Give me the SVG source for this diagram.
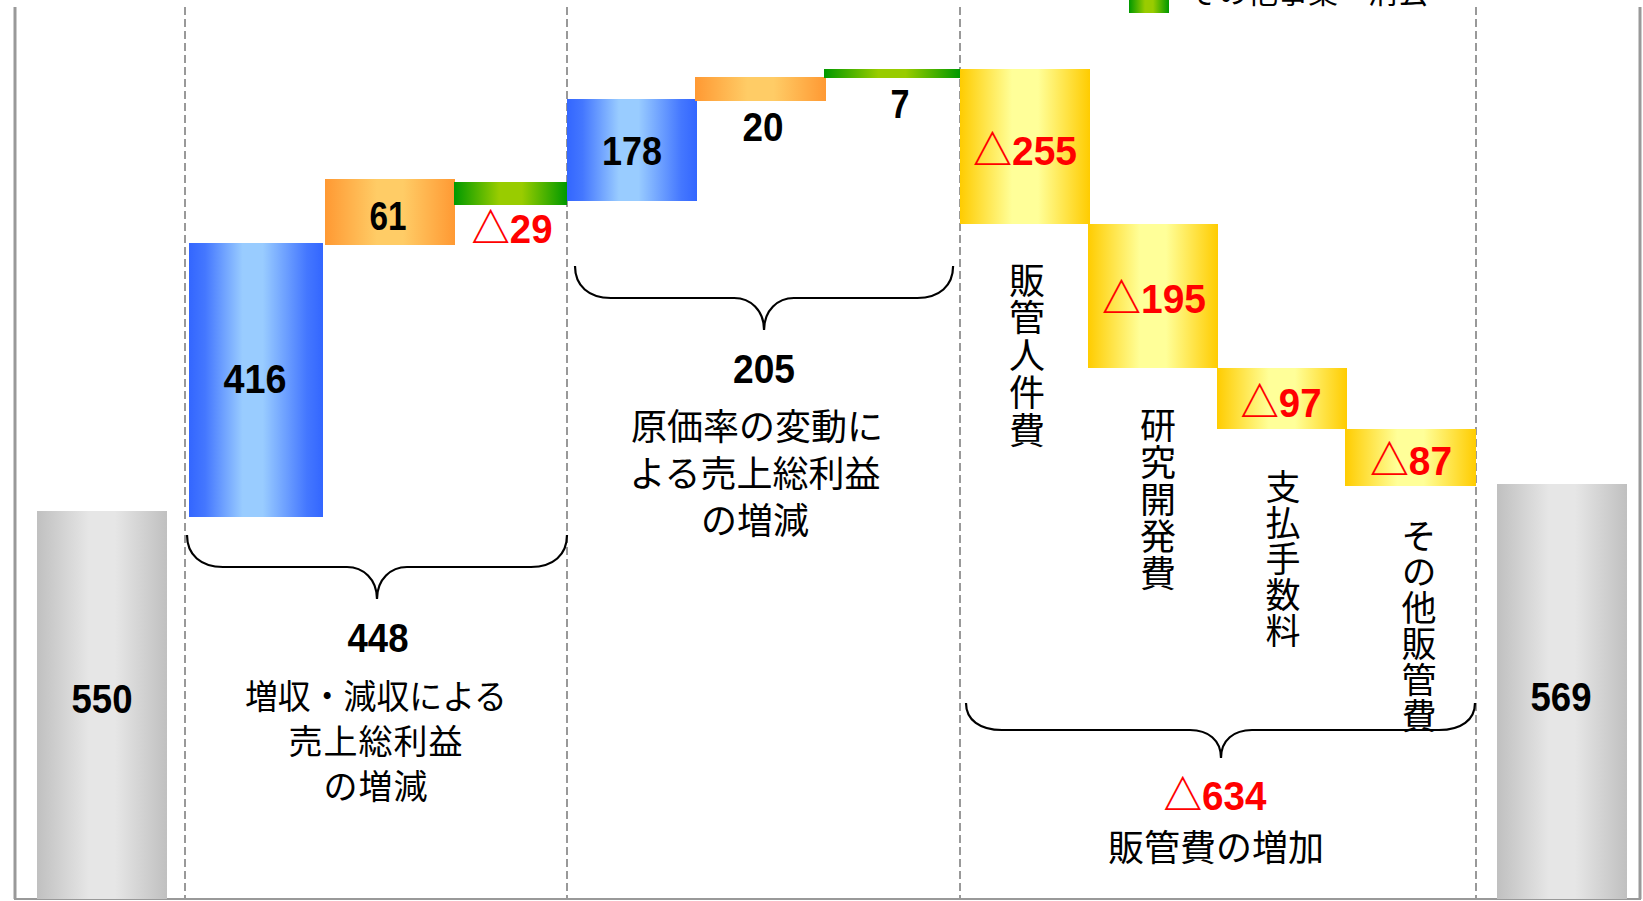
<svg xmlns="http://www.w3.org/2000/svg" width="1643" height="901" viewBox="0 0 1643 901">
<defs>
<linearGradient id="gBlue" x1="0" y1="0" x2="1" y2="0">
<stop offset="0" stop-color="#3366FF"/><stop offset="0.12" stop-color="#4477FF"/><stop offset="0.4" stop-color="#99CCFF"/><stop offset="0.55" stop-color="#99CCFF"/><stop offset="0.88" stop-color="#4477FF"/><stop offset="1" stop-color="#3366FF"/>
</linearGradient>
<linearGradient id="gOrange" x1="0" y1="0" x2="1" y2="0">
<stop offset="0" stop-color="#FF9933"/><stop offset="0.4" stop-color="#FFCC66"/><stop offset="0.6" stop-color="#FFCC66"/><stop offset="1" stop-color="#FF9933"/>
</linearGradient>
<linearGradient id="gGreen" x1="0" y1="0" x2="1" y2="0">
<stop offset="0" stop-color="#009900"/><stop offset="0.4" stop-color="#99CC00"/><stop offset="0.6" stop-color="#99CC00"/><stop offset="1" stop-color="#009900"/>
</linearGradient>
<linearGradient id="gYellow" x1="0" y1="0" x2="1" y2="0">
<stop offset="0" stop-color="#FFCC00"/><stop offset="0.4" stop-color="#FFFF99"/><stop offset="0.6" stop-color="#FFFF99"/><stop offset="1" stop-color="#FFCC00"/>
</linearGradient>
<linearGradient id="gGrey" x1="0" y1="0" x2="1" y2="0">
<stop offset="0" stop-color="#C0C0C0"/><stop offset="0.4" stop-color="#E6E6E6"/><stop offset="0.6" stop-color="#E6E6E6"/><stop offset="1" stop-color="#C0C0C0"/>
</linearGradient>
<path id="brace" d="M0,0 C0,20 14,32 36,32 L160,32 C176,32 190,44 190,64 C190,44 204,32 220,32 L344,32 C366,32 380,20 380,0"/>
</defs>
<style>
.frame{stroke:#999999;stroke-width:3;fill:none}
.dash{stroke:#999999;stroke-width:2;stroke-dasharray:8 4;fill:none}
.brace{stroke:#000;stroke-width:2.2;fill:none}
.num{font-family:"Liberation Sans","Noto Sans CJK JP",sans-serif;font-weight:bold;font-size:41px;text-anchor:middle;fill:#000}
.neg{fill:#FF0000}
.jp{font-family:"Noto Sans CJK JP",sans-serif;font-size:36px;text-anchor:middle;fill:#000}
.vt{font-family:"Noto Sans CJK JP",sans-serif;font-size:35px;fill:#000;writing-mode:vertical-rl;text-anchor:start;letter-spacing:1.5px}
.leg{font-family:"Noto Sans CJK JP",sans-serif;font-size:30px;fill:#000}
</style>
<rect width="1643" height="901" fill="#fff"/>

<g id="frame">
<line class="frame" x1="15" y1="7" x2="15" y2="899"/>
<line class="frame" x1="1640" y1="7" x2="1640" y2="899"/>
<line class="frame" x1="14" y1="899" x2="1641" y2="899" style="stroke-width:2"/>
<line class="dash" x1="185" y1="7" x2="185" y2="898"/>
<line class="dash" x1="567" y1="7" x2="567" y2="898"/>
<line class="dash" x1="960" y1="7" x2="960" y2="898"/>
<line class="dash" x1="1476" y1="7" x2="1476" y2="898"/>
</g>

<g id="legend">
<rect x="1129" y="-10" width="40" height="23" fill="url(#gGreen)"/>
<text class="leg" x="1188" y="3">その他事業・消去</text>
</g>

<g id="bar-550">
<rect x="37" y="511" width="130" height="388" fill="url(#gGrey)"/>
<text class="num" x="102" y="713" textLength="61" lengthAdjust="spacingAndGlyphs">550</text>
</g>

<g id="bar-416">
<rect x="189" y="243" width="134" height="274" fill="url(#gBlue)"/>
<text class="num" x="255" y="393" textLength="63" lengthAdjust="spacingAndGlyphs">416</text>
</g>
<g id="bar-61">
<rect x="325" y="179" width="130" height="66" fill="url(#gOrange)"/>
<text class="num" x="388" y="230" textLength="37" lengthAdjust="spacingAndGlyphs">61</text>
</g>
<g id="bar-m29">
<rect x="454" y="182" width="113" height="23" fill="url(#gGreen)"/>
<text class="num neg" x="512" y="243" textLength="81" lengthAdjust="spacingAndGlyphs">△29</text>
</g>

<g id="bar-178">
<rect x="567" y="99" width="130" height="102" fill="url(#gBlue)"/>
<text class="num" x="632" y="165" textLength="60" lengthAdjust="spacingAndGlyphs">178</text>
</g>
<g id="bar-20">
<rect x="695" y="77" width="131" height="24" fill="url(#gOrange)"/>
<text class="num" x="763" y="141" textLength="41" lengthAdjust="spacingAndGlyphs">20</text>
</g>
<g id="bar-7">
<rect x="824" y="69" width="136" height="9" fill="url(#gGreen)"/>
<text class="num" x="900" y="118" textLength="19" lengthAdjust="spacingAndGlyphs">7</text>
</g>

<g id="bar-m255">
<rect x="960" y="69" width="130" height="155" fill="url(#gYellow)"/>
<text class="num neg" x="1025" y="165" textLength="104" lengthAdjust="spacingAndGlyphs">△255</text>
<text class="vt" x="1027" y="262" style="font-size:36px">販管人件費</text>
</g>
<g id="bar-m195">
<rect x="1088" y="224" width="130" height="144" fill="url(#gYellow)"/>
<text class="num neg" x="1154" y="313" textLength="104" lengthAdjust="spacingAndGlyphs">△195</text>
<text class="vt" x="1158" y="407" style="font-size:36px;letter-spacing:1px">研究開発費</text>
</g>
<g id="bar-m97">
<rect x="1217" y="368" width="130" height="61" fill="url(#gYellow)"/>
<text class="num neg" x="1281" y="417" textLength="81" lengthAdjust="spacingAndGlyphs">△97</text>
<text class="vt" x="1283" y="469" style="letter-spacing:1px">支払手数料</text>
</g>
<g id="bar-m87">
<rect x="1345" y="429" width="131" height="57" fill="url(#gYellow)"/>
<text class="num neg" x="1411" y="475" textLength="82" lengthAdjust="spacingAndGlyphs">△87</text>
<text class="vt" x="1419" y="518" style="letter-spacing:1px">その他販管費</text>
</g>

<g id="bar-569">
<rect x="1497" y="484" width="130" height="415" fill="url(#gGrey)"/>
<text class="num" x="1561" y="711" textLength="61" lengthAdjust="spacingAndGlyphs">569</text>
</g>

<g id="connectors">
<use href="#brace" class="brace" transform="translate(187,535)"/>
<use href="#brace" class="brace" transform="translate(575,266) scale(0.995,1)"/>
<path class="brace" d="M966,703 C966,720 980,730 1002,730 L1190,730 C1208,730 1221,740 1221,758 C1221,740 1234,730 1252,730 L1439,730 C1461,730 1475,720 1475,703"/>
</g>

<g id="summary-448">
<text class="num" x="378" y="652" textLength="61" lengthAdjust="spacingAndGlyphs">448</text>
<text class="jp" style="font-size:34px"><tspan x="376" y="709" textLength="262" lengthAdjust="spacingAndGlyphs">増収・減収による</tspan><tspan x="376" y="754" style="letter-spacing:1px">売上総利益</tspan><tspan x="376" y="799" style="letter-spacing:1px">の増減</tspan></text>
</g>
<g id="summary-205">
<text class="num" x="764" y="383" textLength="62" lengthAdjust="spacingAndGlyphs">205</text>
<text class="jp"><tspan x="757" y="440">原価率の変動に</tspan><tspan x="755" y="487">よる売上総利益</tspan><tspan x="755" y="534">の増減</tspan></text>
</g>
<g id="summary-634">
<text class="num neg" x="1215" y="810" textLength="103" lengthAdjust="spacingAndGlyphs">△634</text>
<text class="jp" x="1216" y="861">販管費の増加</text>
</g>
</svg>
